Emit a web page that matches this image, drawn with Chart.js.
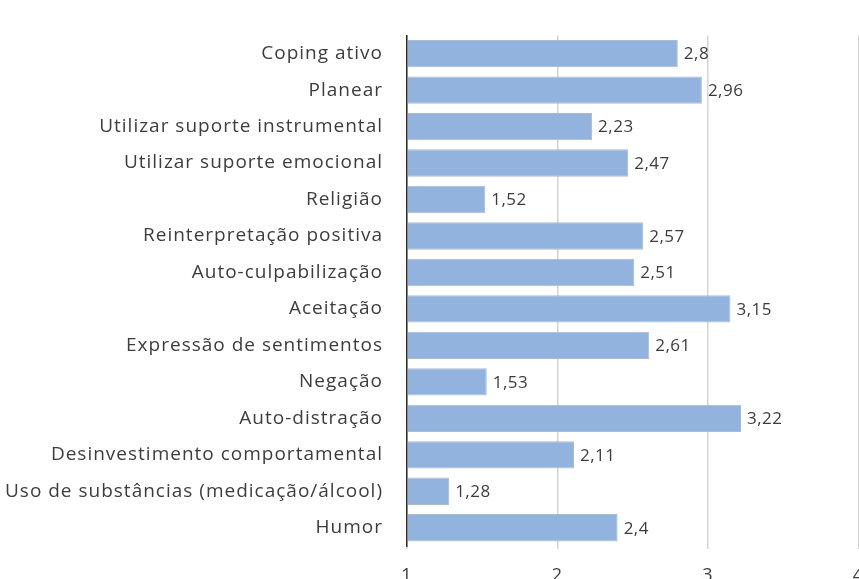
<!DOCTYPE html>
<html>
<head>
<meta charset="utf-8">
<script src="https://cdn.jsdelivr.net/npm/chart.js@4/dist/chart.umd.min.js"></script>
<style>
  html, body { margin: 0; padding: 0; overflow: hidden; background: #fff; }
  canvas { display: block; }
</style>
</head>
<body>
<canvas id="coping" width="880" height="600"></canvas>
<script>
const categories = [
  "Coping ativo",
  "Planear",
  "Utilizar suporte instrumental",
  "Utilizar suporte emocional",
  "Religião",
  "Reinterpretação positiva",
  "Auto-culpabilização",
  "Aceitação",
  "Expressão de sentimentos",
  "Negação",
  "Auto-distração",
  "Desinvestimento comportamental",
  "Uso de substâncias (medicação/álcool)",
  "Humor"
]
const means = [2.8, 2.96, 2.23, 2.47, 1.52, 2.57, 2.51, 3.15, 2.61, 1.53, 3.22, 2.11, 1.28, 2.4]
const xTicks = [1, 2, 3, 4]

const textColor = "#3d3d3d"
const fontFamily = "'Open Sans', sans-serif"

// slightly loose letter spacing for the axis labels
const spacing = {
  id: "spacing",
  beforeLayout(chart) { chart.ctx.letterSpacing = "1px" },
  beforeDraw(chart) { chart.ctx.letterSpacing = "1px" }
}

// writes the mean next to the end of each bar, with a decimal comma
const valueLabels = {
  id: "valueLabels",
  afterDatasetsDraw(chart) {
    const ctx = chart.ctx
    const meta = chart.getDatasetMeta(0)
    ctx.save()
    ctx.letterSpacing = "0.5px"
    ctx.font = "17px " + fontFamily
    ctx.fillStyle = textColor
    ctx.textAlign = "left"
    ctx.textBaseline = "middle"
    meta.data.forEach((bar, i) => {
      ctx.fillText(String(means[i]).replace(".", ","), bar.x + 6, bar.y + 1)
    })
    ctx.restore()
  }
}

new Chart("coping", {
  type: "bar",
  data: {
    labels: categories,
    datasets: [{
      data: means,
      base: 1,
      backgroundColor: "#91b3de",
      borderColor: "#abbacd",
      borderWidth: 1,
      categoryPercentage: 0.75,
      barPercentage: 1
    }]
  },
  options: {
    indexAxis: "y",
    responsive: false,
    animation: false,
    layout: {
      padding: { top: 20, right: 19, left: 0, bottom: 0 }
    },
    plugins: {
      legend: { display: false },
      tooltip: { enabled: false }
    },
    scales: {
      x: {
        min: 1,
        max: 4,
        afterBuildTicks(scale) {
          scale.ticks = xTicks.map(v => ({ value: v }))
        },
        afterFit(scale) {
          scale.height = 54
        },
        border: { display: false },
        grid: {
          color: "#d4d4d4",
          lineWidth: 1.5,
          tickLength: 3
        },
        ticks: {
          padding: 16,
          color: textColor,
          font: { family: fontFamily, size: 18 }
        }
      },
      y: {
        afterFit(scale) {
          scale.width = 407
        },
        border: { display: true, color: "#2a2a2a", width: 1.5 },
        grid: { display: false, drawTicks: false },
        ticks: {
          padding: 24,
          color: textColor,
          font: { family: fontFamily, size: 19 }
        }
      }
    }
  },
  plugins: [spacing, valueLabels]
})
</script>
</body>
</html>
